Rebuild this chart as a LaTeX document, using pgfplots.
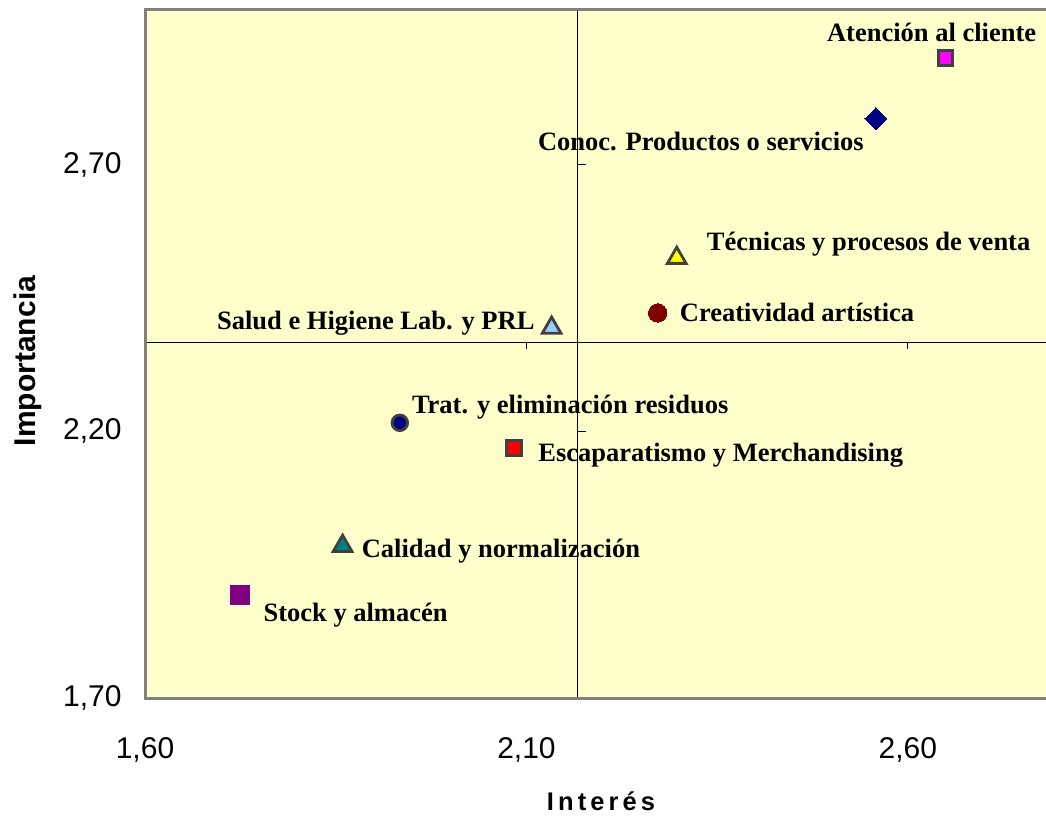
\documentclass[border=0pt]{standalone}
\usepackage{fontspec}
\setmainfont{Liberation Serif}
\setsansfont{Liberation Sans}
\usepackage{pgfplots}
\pgfplotsset{compat=1.18}
\definecolor{bgyellow}{HTML}{FFFFCC}
\definecolor{bordergray}{HTML}{808080}
\definecolor{mkborder}{HTML}{404040}
\definecolor{cnavy}{HTML}{000080}
\definecolor{cmag}{HTML}{FF00FF}
\definecolor{cyel}{HTML}{FFFF00}
\definecolor{cdred}{HTML}{800000}
\definecolor{clblue}{HTML}{99CCFF}
\definecolor{cred}{HTML}{FF0000}
\definecolor{cteal}{HTML}{008080}
\definecolor{cpurp}{HTML}{800080}
\newcommand{\labfont}{\fontsize{26.5pt}{30pt}\selectfont\rmfamily\bfseries}
\begin{document}
\begin{tikzpicture}[x=1pt,y=1pt]
\path[use as bounding box] (0,0) rectangle (1046,817);
\begin{axis}[
  at={(145pt,119pt)}, anchor=south west,
  scale only axis, width=901pt, height=688pt,
  xmin=1.6, xmax=2.781, ymin=1.7, ymax=2.99,
  axis line style={draw=none},
  axis background/.style={fill=bgyellow},
  xtick={1.6,2.1,2.6}, ytick={1.7,2.2,2.7},
  major tick length=0pt,
  tick label style={font=\fontsize{30pt}{34pt}\selectfont\sffamily},
  /pgf/number format/.cd, use comma, fixed, fixed zerofill, precision=2, assume math mode=true,
  /pgfplots/.cd,
  xticklabel style={yshift=-36pt},
  yticklabel style={xshift=-20pt},
  clip=false,
]
% crosshair
\draw[black, line width=1pt] (axis cs:2.1675,1.7) -- (axis cs:2.1675,2.99);
\draw[black, line width=1pt] (axis cs:1.6,2.367) -- (axis cs:2.781,2.367);
\draw[black, line width=1pt] (axis cs:2.1675,1.7) -- ++(8pt,0pt);
\draw[black, line width=1pt] (axis cs:2.1675,2.2) -- ++(8pt,0pt);
\draw[black, line width=1pt] (axis cs:2.1675,2.7) -- ++(8pt,0pt);
\draw[black, line width=1pt] (axis cs:1.6,2.367) -- ++(0pt,-7pt);
\draw[black, line width=1pt] (axis cs:2.1,2.367) -- ++(0pt,-7pt);
\draw[black, line width=1pt] (axis cs:2.6,2.367) -- ++(0pt,-7pt);
% border
\draw[bordergray, line width=3pt] (rel axis cs:1.01,1) -- (rel axis cs:0,1) -- (rel axis cs:0,0) -- (rel axis cs:1.01,0);

% data
\addplot[only marks, mark=square*, mark size=7.2pt, mark options={fill=cmag, draw=mkborder, line width=2.8pt}] coordinates {(2.649,2.900)};
\addplot[only marks, mark=square*, mark size=7.8pt, mark options={fill=cnavy, draw=cnavy, line width=0pt, rotate=45}] coordinates {(2.558,2.786)};
\addplot[only marks, mark=triangle*, mark size=10.8pt, mark options={fill=cyel, draw=mkborder, line width=2.8pt}] coordinates {(2.297,2.525)};
\addplot[only marks, mark=*, mark size=9.2pt, mark options={fill=cdred, draw=cdred, line width=0pt}] coordinates {(2.272,2.422)};
\addplot[only marks, mark=triangle*, mark size=10.8pt, mark options={fill=clblue, draw=mkborder, line width=2.8pt}] coordinates {(2.133,2.394)};
\addplot[only marks, mark=*, mark size=7.8pt, mark options={fill=cnavy, draw=mkborder, line width=2.8pt}] coordinates {(1.934,2.216)};
\addplot[only marks, mark=square*, mark size=7.6pt, mark options={fill=cred, draw=mkborder, line width=2.8pt}] coordinates {(2.084,2.169)};
\addplot[only marks, mark=triangle*, mark size=10.8pt, mark options={fill=cteal, draw=mkborder, line width=2.8pt}] coordinates {(1.859,1.985)};
\addplot[only marks, mark=square*, mark size=9.4pt, mark options={fill=cpurp, draw=cpurp, line width=0pt, rounded corners=1.5pt}] coordinates {(1.725,1.893)};

% labels
\node[anchor=base east, font=\labfont, inner sep=0pt, xshift=91pt, yshift=16pt] at (axis cs:2.649,2.900) {Atención al cliente};
\node[anchor=base east, font=\labfont, inner sep=0pt, xshift=-12pt, yshift=-31.5pt] at (axis cs:2.558,2.786) {Conoc. Productos o servicios};
\node[anchor=base west, font=\labfont, inner sep=0pt, xshift=30pt, yshift=7pt] at (axis cs:2.297,2.525) {Técnicas y procesos de venta};
\node[anchor=base west, font=\labfont, inner sep=0pt, xshift=22pt, yshift=-8.6pt] at (axis cs:2.272,2.422) {Creatividad artística};
\node[anchor=base east, font=\labfont, inner sep=0pt, xshift=-17pt, yshift=-2pt] at (axis cs:2.133,2.394) {Salud e Higiene Lab. y PRL};
\node[anchor=base west, font=\labfont, inner sep=0pt, xshift=12pt, yshift=9pt] at (axis cs:1.934,2.216) {Trat. y eliminación residuos};
\node[anchor=base west, font=\labfont, inner sep=0pt, xshift=24pt, yshift=-14pt] at (axis cs:2.084,2.169) {Escaparatismo y Merchandising};
\node[anchor=base west, font=\labfont, inner sep=0pt, xshift=19pt, yshift=-12pt] at (axis cs:1.859,1.985) {Calidad y normalización};
\node[anchor=base west, font=\labfont, inner sep=0pt, xshift=23pt, yshift=-26pt] at (axis cs:1.725,1.893) {Stock y almacén};
\end{axis}
% axis titles
\node[anchor=base, inner sep=0pt, font={\fontsize{25.5pt}{30pt}\selectfont\sffamily\bfseries\addfontfeature{LetterSpace=16}}] at (601,7) {Interés};
\node[anchor=base, rotate=90, inner sep=0pt, font={\fontsize{30pt}{34pt}\selectfont\sffamily\bfseries}] at (35,456) {Importancia};
\end{tikzpicture}
\end{document}
